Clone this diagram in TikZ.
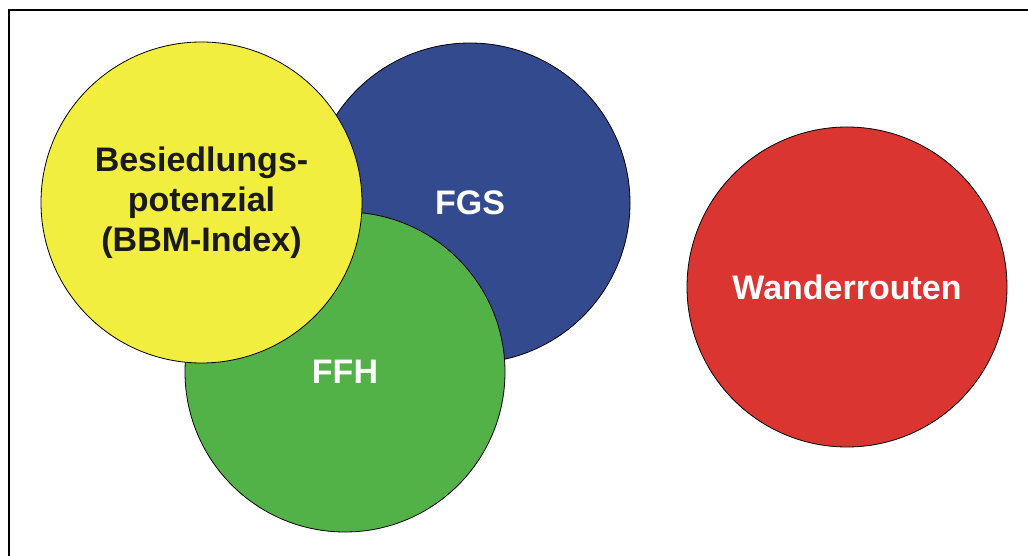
\documentclass[tikz,border=0pt]{standalone}
\usepackage{fontspec}
\setmainfont{Liberation Sans}
\definecolor{cyellow}{RGB}{242,238,64}
\definecolor{cblue}{RGB}{52,74,143}
\definecolor{cgreen}{RGB}{82,178,72}
\definecolor{cred}{RGB}{219,53,50}
\definecolor{ctext}{RGB}{26,26,26}
\begin{document}
\begin{tikzpicture}[x=1pt,y=-1pt,
  disc/.style={circle,draw=black,line width=0.8pt,minimum size=320pt,inner sep=0pt,
    font=\fontsize{34}{40}\selectfont\bfseries,align=center},
  frameline/.style={line width=2.6pt,draw=black}]
\useasboundingbox (0,0) rectangle (1028,556);
\clip (0,0) rectangle (1028,556);
\coordinate (fa) at (9,560);
\coordinate (fb) at (9,10);
\coordinate (fc) at (1032,10);
\draw[frameline] (fa) -- (fb) -- (fc);
\node[disc,fill=cblue,text=white] (fgs) at (470,203) {FGS};
\node[disc,fill=cgreen,text=white] (ffh) at (345,372) {FFH};
\node[disc,fill=cyellow,text=ctext,minimum size=321pt] (bbm) at (201.5,202.5) {Besiedlungs-\\potenzial\\(BBM-Index)};
\node[disc,fill=cred,text=white] (wr) at (847,287) {Wanderrouten};
\end{tikzpicture}
\end{document}
